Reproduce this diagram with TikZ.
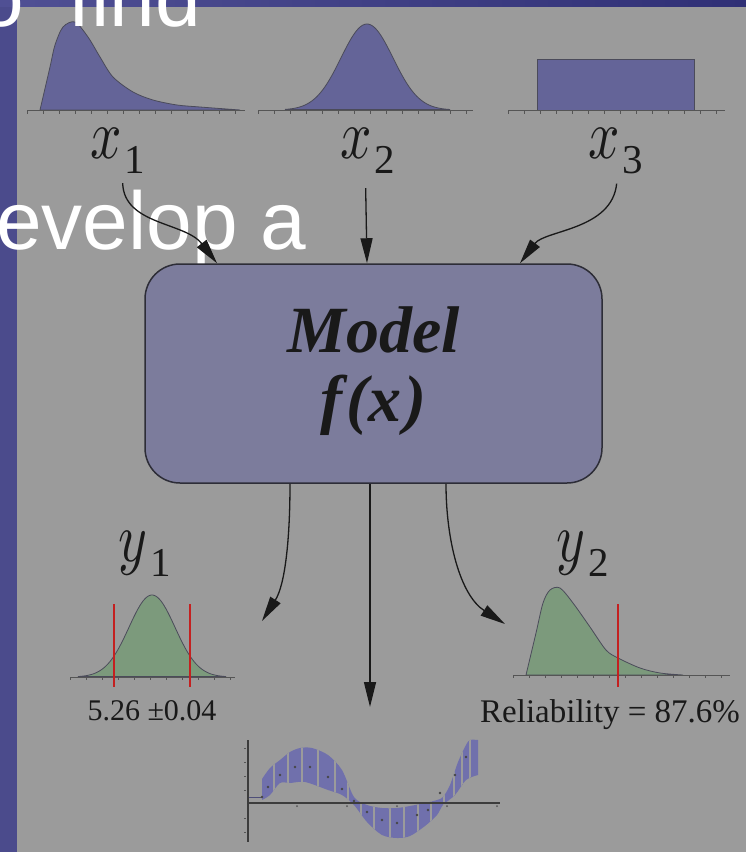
\documentclass[tikz,border=0pt]{standalone}
\usepackage{fontspec}
\setmainfont{Liberation Serif}
\newfontfamily\slidefont{Liberation Sans}
\usepackage{graphicx}
\usetikzlibrary{arrows.meta}
\definecolor{bg}{RGB}{155,155,155}
\definecolor{strip}{RGB}{75,75,140}
\definecolor{stripA}{RGB}{80,80,148}
\definecolor{stripB}{RGB}{48,48,118}
\definecolor{distblue}{RGB}{100,100,152}
\definecolor{bandblue}{RGB}{112,112,172}
\definecolor{boxfill}{RGB}{124,124,156}
\definecolor{boxline}{RGB}{45,45,55}
\definecolor{distgreen}{RGB}{124,154,124}
\definecolor{redline}{RGB}{196,32,32}
\definecolor{ink}{RGB}{25,25,25}
\definecolor{curveline}{RGB}{75,75,90}
\definecolor{axisgray}{RGB}{85,85,85}
\newcommand{\varlabel}[2]{\scalebox{5.5}[7]{$#1$}\kern3pt\raisebox{-15pt}{\fontsize{41}{41}\selectfont #2}}
\tikzset{
  conn/.style={draw=ink, line width=1.3pt, -{Triangle[length=25pt,width=12pt]}},
  lbl/.style={inner sep=0pt, text=ink},
  modelbox/.style={draw=boxline, line width=1.5pt, fill=boxfill, rounded corners=35pt,
    minimum width=457pt, minimum height=219pt, inner sep=0pt, text=ink},
  distline/.style={draw=curveline, line width=0.8pt},
  axisline/.style={draw=axisgray, line width=1pt},
  tickmark/.style={draw=axisgray, line width=0.5pt},
  limitline/.style={draw=redline, line width=1.6pt},
  slidetext/.style={text=white, inner sep=0pt, font=\slidefont\fontsize{82}{82}\selectfont},
  valtext/.style={inner sep=0pt, text=ink},
  plotaxis/.style={draw=ink!85, line width=1.8pt},
}
\begin{document}
\begin{tikzpicture}[x=1pt,y=-1pt]
\useasboundingbox (0,0) rectangle (746,852);
\clip (0,0) rectangle (746,852);
% background
\fill[bg] (0,0) rectangle (746,852);
\fill[strip] (0,0) rectangle (17,852);
\shade[left color=stripA, right color=stripB] (0,0) rectangle (746,6);

% ---------- input distributions ----------
% x1 (skewed)
\draw[distline, fill=distblue] plot[smooth] coordinates {(40,110) (50,67) (55,45) (63,27) (75,22) (88,37) (100,57) (113,77) (133,92) (153,100) (177,105) (200,107) (240,110)} -- cycle;
\draw[axisline] (27,110) -- (245,110);
\foreach \t in {27,43,...,245} \draw[tickmark] (\t,110) -- (\t,114);
% x2 (normal)
\draw[distline, fill=distblue] plot[domain=285:450, samples=80] (\x,{110-86*exp(-0.5*pow((\x-367)/26,2))}) -- cycle;
\draw[axisline] (258,110) -- (473,110);
\foreach \t in {258,274,...,473} \draw[tickmark] (\t,110) -- (\t,114);
% x3 (uniform)
\draw[distline, fill=distblue] (537,110) rectangle (694,59);
\draw[axisline] (508,110) -- (725,110);
\foreach \t in {508,524,...,725} \draw[tickmark] (\t,110) -- (\t,114);

% labels
\node[lbl, anchor=base west] (x1) at (90,158) {\varlabel{x}{1}};
\node[lbl, anchor=base west] (x2) at (340,158) {\varlabel{x}{2}};
\node[lbl, anchor=base west] (x3) at (588,158) {\varlabel{x}{3}};

% slide text overlay
\node[slidetext, anchor=base west] (findtext) at (-22,26) {o\hspace{45pt}find};
\node[slidetext, anchor=base west] (developtext) at (-4,249) {evelop a};

% ---------- model ----------
\node[modelbox] (model) at (373.5,373.5) {\raisebox{-8.5pt}{\fontsize{66}{69}\selectfont\bfseries\itshape
  \renewcommand{\arraystretch}{1}\begin{tabular}{@{}c@{}}Model\\ f\kern5pt(x\kern3pt)\end{tabular}}};

% input connectors
\draw[conn] ([xshift=5pt,yshift=-10pt]x1.south) .. controls (124,225) and (185,222) .. ([xshift=-156.5pt]model.north);
\draw[conn] ([xshift=-2pt,yshift=-15pt]x2.south) -- ([xshift=-6.5pt]model.north);
\draw[conn] ([xshift=1pt,yshift=-10pt]x3.south) .. controls (612,230) and (545,230) .. ([xshift=146.5pt]model.north);

% output ends
\coordinate (o1) at (262,621);
\coordinate (o2) at (370,707);
\coordinate (o3) at (505,624);
\draw[conn] ([xshift=-83.5pt]model.south) .. controls (290,540) and (285,585) .. (o1);
\draw[conn] ([xshift=-3.5pt]model.south) -- (o2);
\draw[conn] ([xshift=72.5pt]model.south) .. controls (446,540) and (460,595) .. (o3);

% ---------- output y1 ----------
\node[lbl, anchor=base west] (y1) at (118,561) {\varlabel{y}{1}};
\draw[distline, fill=distgreen] plot[domain=78:226, samples=80] (\x,{677-82*exp(-0.5*pow((\x-152)/23,2))}) -- cycle;
\draw[axisline] (70,677) -- (235,677);
\foreach \t in {70,86,...,235} \draw[tickmark] (\t,677) -- (\t,680);
\draw[limitline] (114,604) -- (114,687);
\draw[limitline] (190,604) -- (190,687);
\node[valtext, anchor=base] (y1val) at (152,720) {\fontsize{30}{30}\selectfont 5.26 ±0.04};

% ---------- output y2 ----------
\node[lbl, anchor=base west] (y2) at (556,561) {\varlabel{y}{2}};
\draw[distline, fill=distgreen] plot[smooth] coordinates {(526,675) (536,633) (543,603) (550,590) (560,588) (573,603) (590,627) (606,650) (618,658) (640,668) (660,673) (683,675)} -- cycle;
\draw[axisline] (513,675) -- (730,675);
\foreach \t in {513,529,...,730} \draw[tickmark] (\t,675) -- (\t,678);
\draw[limitline] (618,604) -- (618,687);
\node[valtext, anchor=base west] (y2val) at (480,722) {\fontsize{33}{33}\selectfont Reliability = 87.6\%};

% ---------- output f(x) band ----------
\def\bandpath{plot[smooth] coordinates {(262,779) (270,768) (280,760) (290,752) (300,748) (312,748) (328,755) (342,770) (354,797) (367,805) (382,808) (397,808) (410,806) (425,803) (437,800) (443,797) (450,785) (458,762) (466,745) (470,740) (478,740)}
  -- plot[smooth] coordinates {(478,775) (466,780) (455,795) (443,805) (437,815) (425,826) (410,836) (397,838) (382,835) (367,822) (354,805) (342,795) (328,790) (305,782) (290,783) (280,783) (270,795) (262,800)} -- cycle}
\fill[bandblue] \bandpath;
\begin{scope}
  \clip \bandpath;
  \foreach \s in {274,288,302,318,335,348,361,374,390,404,418,431,444,454,462,470}
    \draw[bg, line width=1.3pt] (\s,735) -- (\s,845);
\end{scope}
\draw[bandblue!70!black, line width=1pt] (248,797) -- (262,797);
\foreach \p in {(262,797),(268,787),(280,775),(295,767),(310,767),(328,777),(342,789),(354,801),(367,812),(382,820),(397,823),(417,815),(428,810),(440,793),(455,775),(466,757)}
  \fill[ink!80] \p circle (1.3);
\draw[plotaxis] (248,740) -- (248,842);
\draw[plotaxis] (248,803) -- (500,803);
\foreach \t in {297,347,397,447,497} \fill[axisgray] (\t,806) circle (1);
\foreach \t in {748,762,776,790,818,832} \draw[tickmark] (244,\t) -- (246,\t);
\end{tikzpicture}
\end{document}
